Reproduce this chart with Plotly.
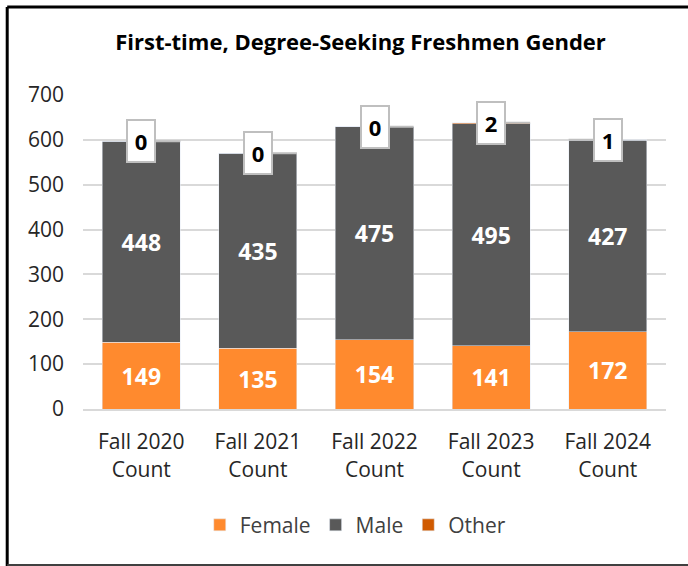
import plotly.graph_objects as go

categories = ["Fall 2020<br>Count", "Fall 2021<br>Count", "Fall 2022<br>Count", "Fall 2023<br>Count", "Fall 2024<br>Count"]
female = [149, 135, 154, 141, 172]
male = [448, 435, 475, 495, 427]
other = [0, 0, 0, 2, 1]

FONT = "Open Sans"
C_FEMALE = "#FF8A2E"
C_MALE = "#595959"
C_OTHER = "#D05A00"

fig = go.Figure()
fig.add_trace(go.Bar(name="Female", x=categories, y=female, marker_color=C_FEMALE,
                     text=female, textposition="inside", insidetextanchor="middle",
                     textfont=dict(family=FONT, size=23, color="white", weight="bold")))
fig.add_trace(go.Bar(name="Male", x=categories, y=male, marker_color=C_MALE,
                     text=male, textposition="inside", insidetextanchor="middle",
                     textfont=dict(family=FONT, size=23, color="white", weight="bold")))
fig.add_trace(go.Bar(name="Other", x=categories, y=other, marker_color=C_OTHER,
                     textposition="none"))

# callout labels for "Other"
for i, (f, m, o) in enumerate(zip(female, male, other)):
    total = f + m + o
    side = -1 if i == 4 else 1
    fig.add_annotation(x=i + side * 0.335, y=total, xref="x", yref="y",
                       text="<b>%d</b>" % o, showarrow=True, arrowhead=0,
                       arrowcolor="#BFBFBF", arrowwidth=2,
                       ax=-side * 39, ay=0,
                       bgcolor="white", bordercolor="#BFBFBF", borderwidth=2,
                       borderpad=5, width=16, height=30,
                       font=dict(family=FONT, size=22, color="black"))

fig.update_layout(
    barmode="stack",
    bargap=0.33,
    width=688, height=566,
    margin=dict(l=83, r=22, t=95, b=157),
    paper_bgcolor="white", plot_bgcolor="white",
    font=dict(family=FONT, color="#404040"),
    title=dict(text="<b>First-time, Degree-Seeking Freshmen Gender</b>",
               x=0.524, xanchor="center", y=0.925, yanchor="middle",
               font=dict(family=FONT, size=22, color="black")),
    legend=dict(orientation="h", x=0.467, xanchor="center", y=-0.37, yanchor="middle",
                font=dict(family=FONT, size=21, color="#404040"),
                traceorder="normal", itemwidth=30),
    showlegend=True,
)
fig.update_yaxes(range=[0, 700], dtick=100, showgrid=True, gridcolor="#D9D9D9", gridwidth=2,
                 zeroline=False, ticks="", tickfont=dict(family=FONT, size=21, color="#262626"),
                 ticklabelstandoff=18)
fig.update_xaxes(showline=True, linecolor="#D9D9D9", linewidth=2, ticks="",
                 tickfont=dict(family=FONT, size=21, color="#262626"),
                 ticklabelstandoff=13)

# frame border (chart container)
fig.add_shape(type="line", xref="paper", yref="paper", x0=-0.13, x1=-0.13, y0=-0.50, y1=1.28,
              line=dict(color="black", width=3))
fig.add_shape(type="line", xref="paper", yref="paper", x0=-0.13, x1=1.1, y0=1.28, y1=1.28,
              line=dict(color="black", width=3))
fig.add_shape(type="line", xref="paper", yref="paper", x0=-0.13, x1=1.1, y0=-0.497, y1=-0.497,
              line=dict(color="#404040", width=2))

fig.write_html("out.html", config={"displayModeBar": False},
               post_script="document.body.style.margin='0';")
